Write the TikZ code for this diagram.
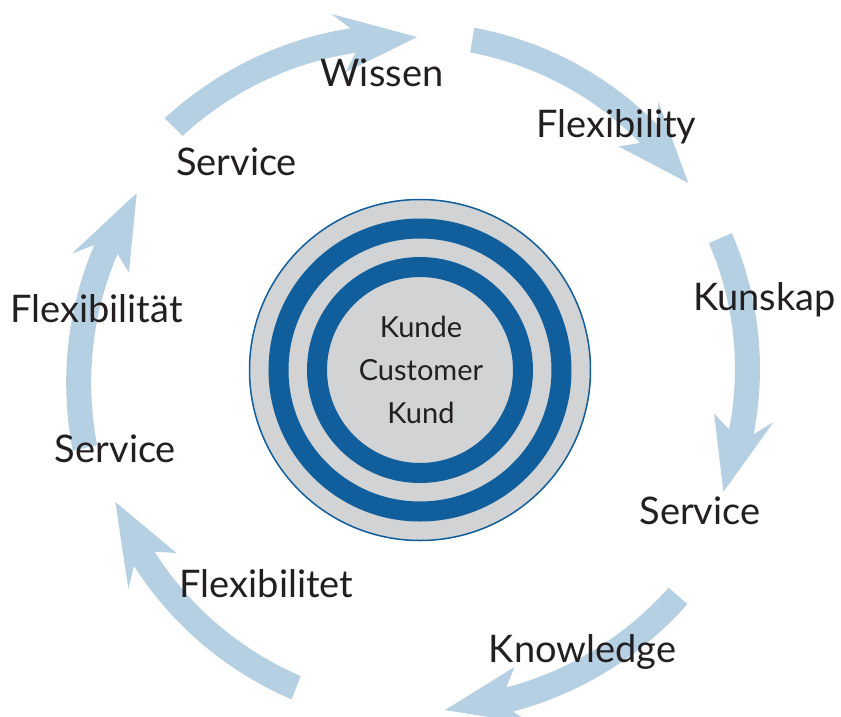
\documentclass[tikz,border=0pt]{standalone}
\usepackage{fontspec}
\setmainfont{Lato}
\definecolor{ringblue}{RGB}{16,94,156}
\definecolor{ringgray}{RGB}{209,211,212}
\definecolor{arrowblue}{RGB}{181,207,227}
\definecolor{textdark}{RGB}{35,31,32}

% #1 tail angle, #2 tip angle, #3 tail radius, #4 tip radius (clockwise)
\newcommand{\cyclearrow}[4]{%
  \pgfmathsetmacro{\wingang}{#2+13.5}%
  \pgfmathsetmacro{\joinang}{#2+11}%
  \pgfmathsetmacro{\wingrad}{#3+(#4-#3)*(\wingang-#1)/(#2-#1)}%
  \pgfmathsetmacro{\joinrad}{#3+(#4-#3)*(\joinang-#1)/(#2-#1)}%
  \fill[arrowfill] plot[domain=#1:\joinang, samples=30] (\x:{#3+(#4-#3)*(\x-#1)/(#2-#1)+12.5})
    -- (\wingang:{\wingrad+30}) -- (#2:#4) -- (\wingang:{\wingrad-30})
    -- plot[domain=\joinang:#1, samples=30] (\x:{#3+(#4-#3)*(\x-#1)/(#2-#1)-12.5}) -- cycle;
}

\begin{document}
\begin{tikzpicture}[
    x=1pt, y=1pt,
    cyclelabel/.style={anchor=base, inner sep=0pt, text=textdark, font=\fontsize{38}{45}\selectfont},
    coretext/.style={anchor=base, inner sep=0pt, text=textdark, font=\fontsize{29}{35}\selectfont},
    arrowfill/.style={fill=arrowblue}
]
\useasboundingbox (-420,-346) rectangle (421,370);

% arrows round the customer
\cyclearrow{135.4}{90.5}{346}{333}
\cyclearrow{81}{34.9}{334}{327}
\cyclearrow{23.7}{-21.9}{328}{327}
\cyclearrow{-41.2}{-85.8}{343}{341}
\cyclearrow{-111.3}{-156.6}{341}{332}
\cyclearrow{193.1}{148}{344}{334}

% rings
\fill[ringgray] (0,0) circle[radius=171];
\draw[ringblue, line width=1.5pt] (0,0) circle[radius=170.5];
\draw[ringblue, line width=20pt] (0,0) circle[radius=141.5];
\draw[ringblue, line width=20pt] (0,0) circle[radius=103];

\node[coretext] (kunde) at (1,33) {Kunde};
\node[coretext] (customer) at (1,-10) {Customer};
\node[coretext] (kund) at (1,-53) {Kund};

% labels
\node[cyclelabel] (wissen) at (-38,284) {Wissen};
\node[cyclelabel] (flexibility) at (196.5,233) {Flexibility};
\node[cyclelabel] (kunskap) at (344.5,60) {Kunskap};
\node[cyclelabel] (serviceR) at (280,-154) {Service};
\node[cyclelabel] (knowledge) at (162.5,-292) {Knowledge};
\node[cyclelabel] (flexibilitet) at (-153.5,-227) {Flexibilitet};
\node[cyclelabel] (serviceL) at (-304.5,-92) {Service};
\node[cyclelabel] (flexibilitaet) at (-323.5,48) {Flexibilität};
\node[cyclelabel] (serviceT) at (-183.5,195) {Service};

\end{tikzpicture}
\end{document}
